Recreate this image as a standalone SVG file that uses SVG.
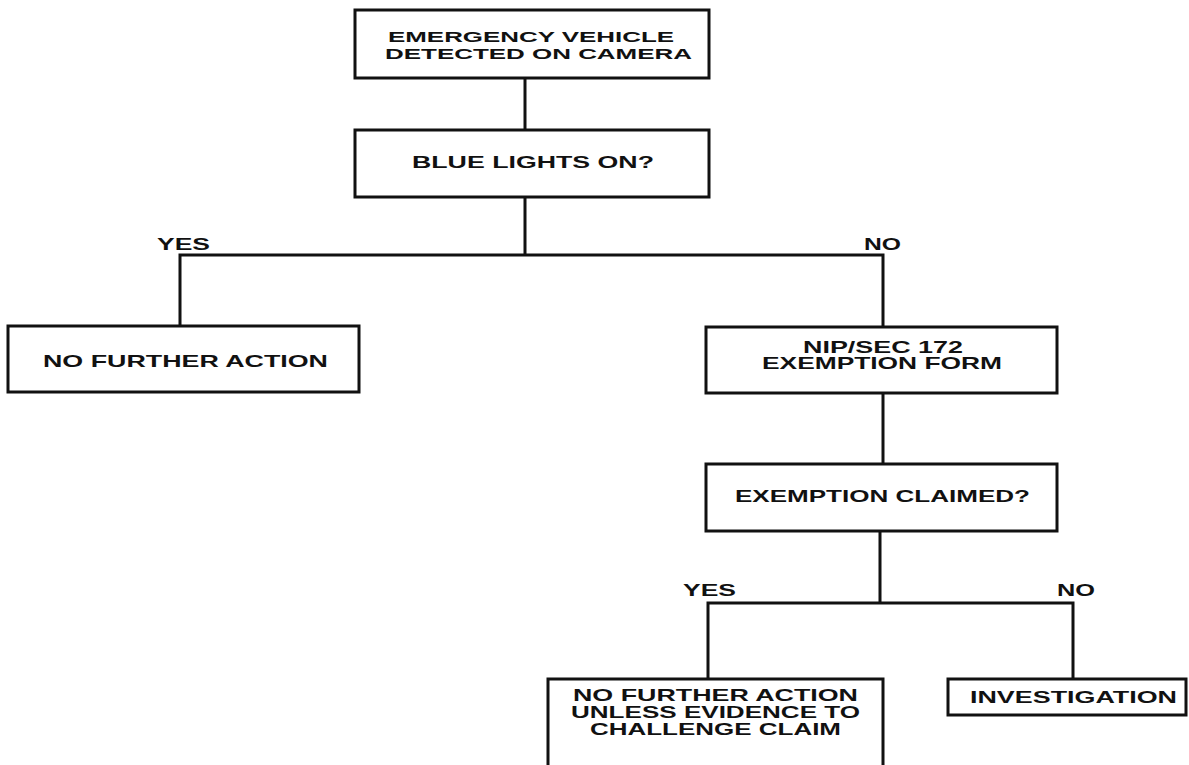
<svg xmlns="http://www.w3.org/2000/svg" width="1189" height="765" viewBox="0 0 1189 765">
<style>
.box{fill:#fff;stroke:#111;stroke-width:3}
.ln{fill:none;stroke:#111;stroke-width:3}
text{font-family:"Liberation Sans",Arial,sans-serif;font-weight:bold;font-size:16.5px;fill:#111}
.sm{font-size:15px}
</style>
<rect width="1189" height="765" fill="#fff"/>
<g id="connectors">
<path class="ln" d="M525 78V130"/>
<path class="ln" d="M525 197V255M180 326V255H883V326"/>
<path class="ln" d="M883 393V464"/>
<path class="ln" d="M880 531V603M708 679V603H1073V679"/>
<text x="157" y="250" textLength="53" lengthAdjust="spacingAndGlyphs">YES</text>
<text x="864" y="250" textLength="37" lengthAdjust="spacingAndGlyphs">NO</text>
<text x="683" y="596" textLength="53" lengthAdjust="spacingAndGlyphs">YES</text>
<text x="1057" y="596" textLength="38" lengthAdjust="spacingAndGlyphs">NO</text>
</g>
<g id="n1">
<rect class="box" x="355" y="10" width="354" height="68"/>
<text class="sm" x="388" y="42" textLength="286" lengthAdjust="spacingAndGlyphs">EMERGENCY VEHICLE</text>
<text class="sm" x="385" y="59" textLength="307" lengthAdjust="spacingAndGlyphs">DETECTED ON CAMERA</text>
</g>
<g id="n2">
<rect class="box" x="355" y="130" width="354" height="67"/>
<text x="412" y="168" textLength="242" lengthAdjust="spacingAndGlyphs">BLUE LIGHTS ON?</text>
</g>
<g id="n3">
<rect class="box" x="8" y="326" width="351" height="66"/>
<text x="43" y="367" textLength="285" lengthAdjust="spacingAndGlyphs">NO FURTHER ACTION</text>
</g>
<g id="n4">
<rect class="box" x="706" y="327" width="351" height="66"/>
<text x="803" y="353" textLength="160" lengthAdjust="spacingAndGlyphs">NIP/SEC 172</text>
<text x="762" y="369" textLength="240" lengthAdjust="spacingAndGlyphs">EXEMPTION FORM</text>
</g>
<g id="n5">
<rect class="box" x="706" y="464" width="351" height="67"/>
<text x="735" y="502" textLength="295" lengthAdjust="spacingAndGlyphs">EXEMPTION CLAIMED?</text>
</g>
<g id="n6">
<rect class="box" x="548" y="679" width="335" height="100"/>
<text x="573" y="701" textLength="285" lengthAdjust="spacingAndGlyphs">NO FURTHER ACTION</text>
<text x="571" y="718" textLength="289" lengthAdjust="spacingAndGlyphs">UNLESS EVIDENCE TO</text>
<text x="590" y="735" textLength="251" lengthAdjust="spacingAndGlyphs">CHALLENGE CLAIM</text>
</g>
<g id="n7">
<rect class="box" x="948" y="679" width="238" height="36"/>
<text x="970" y="703" textLength="207" lengthAdjust="spacingAndGlyphs">INVESTIGATION</text>
</g>
</svg>
